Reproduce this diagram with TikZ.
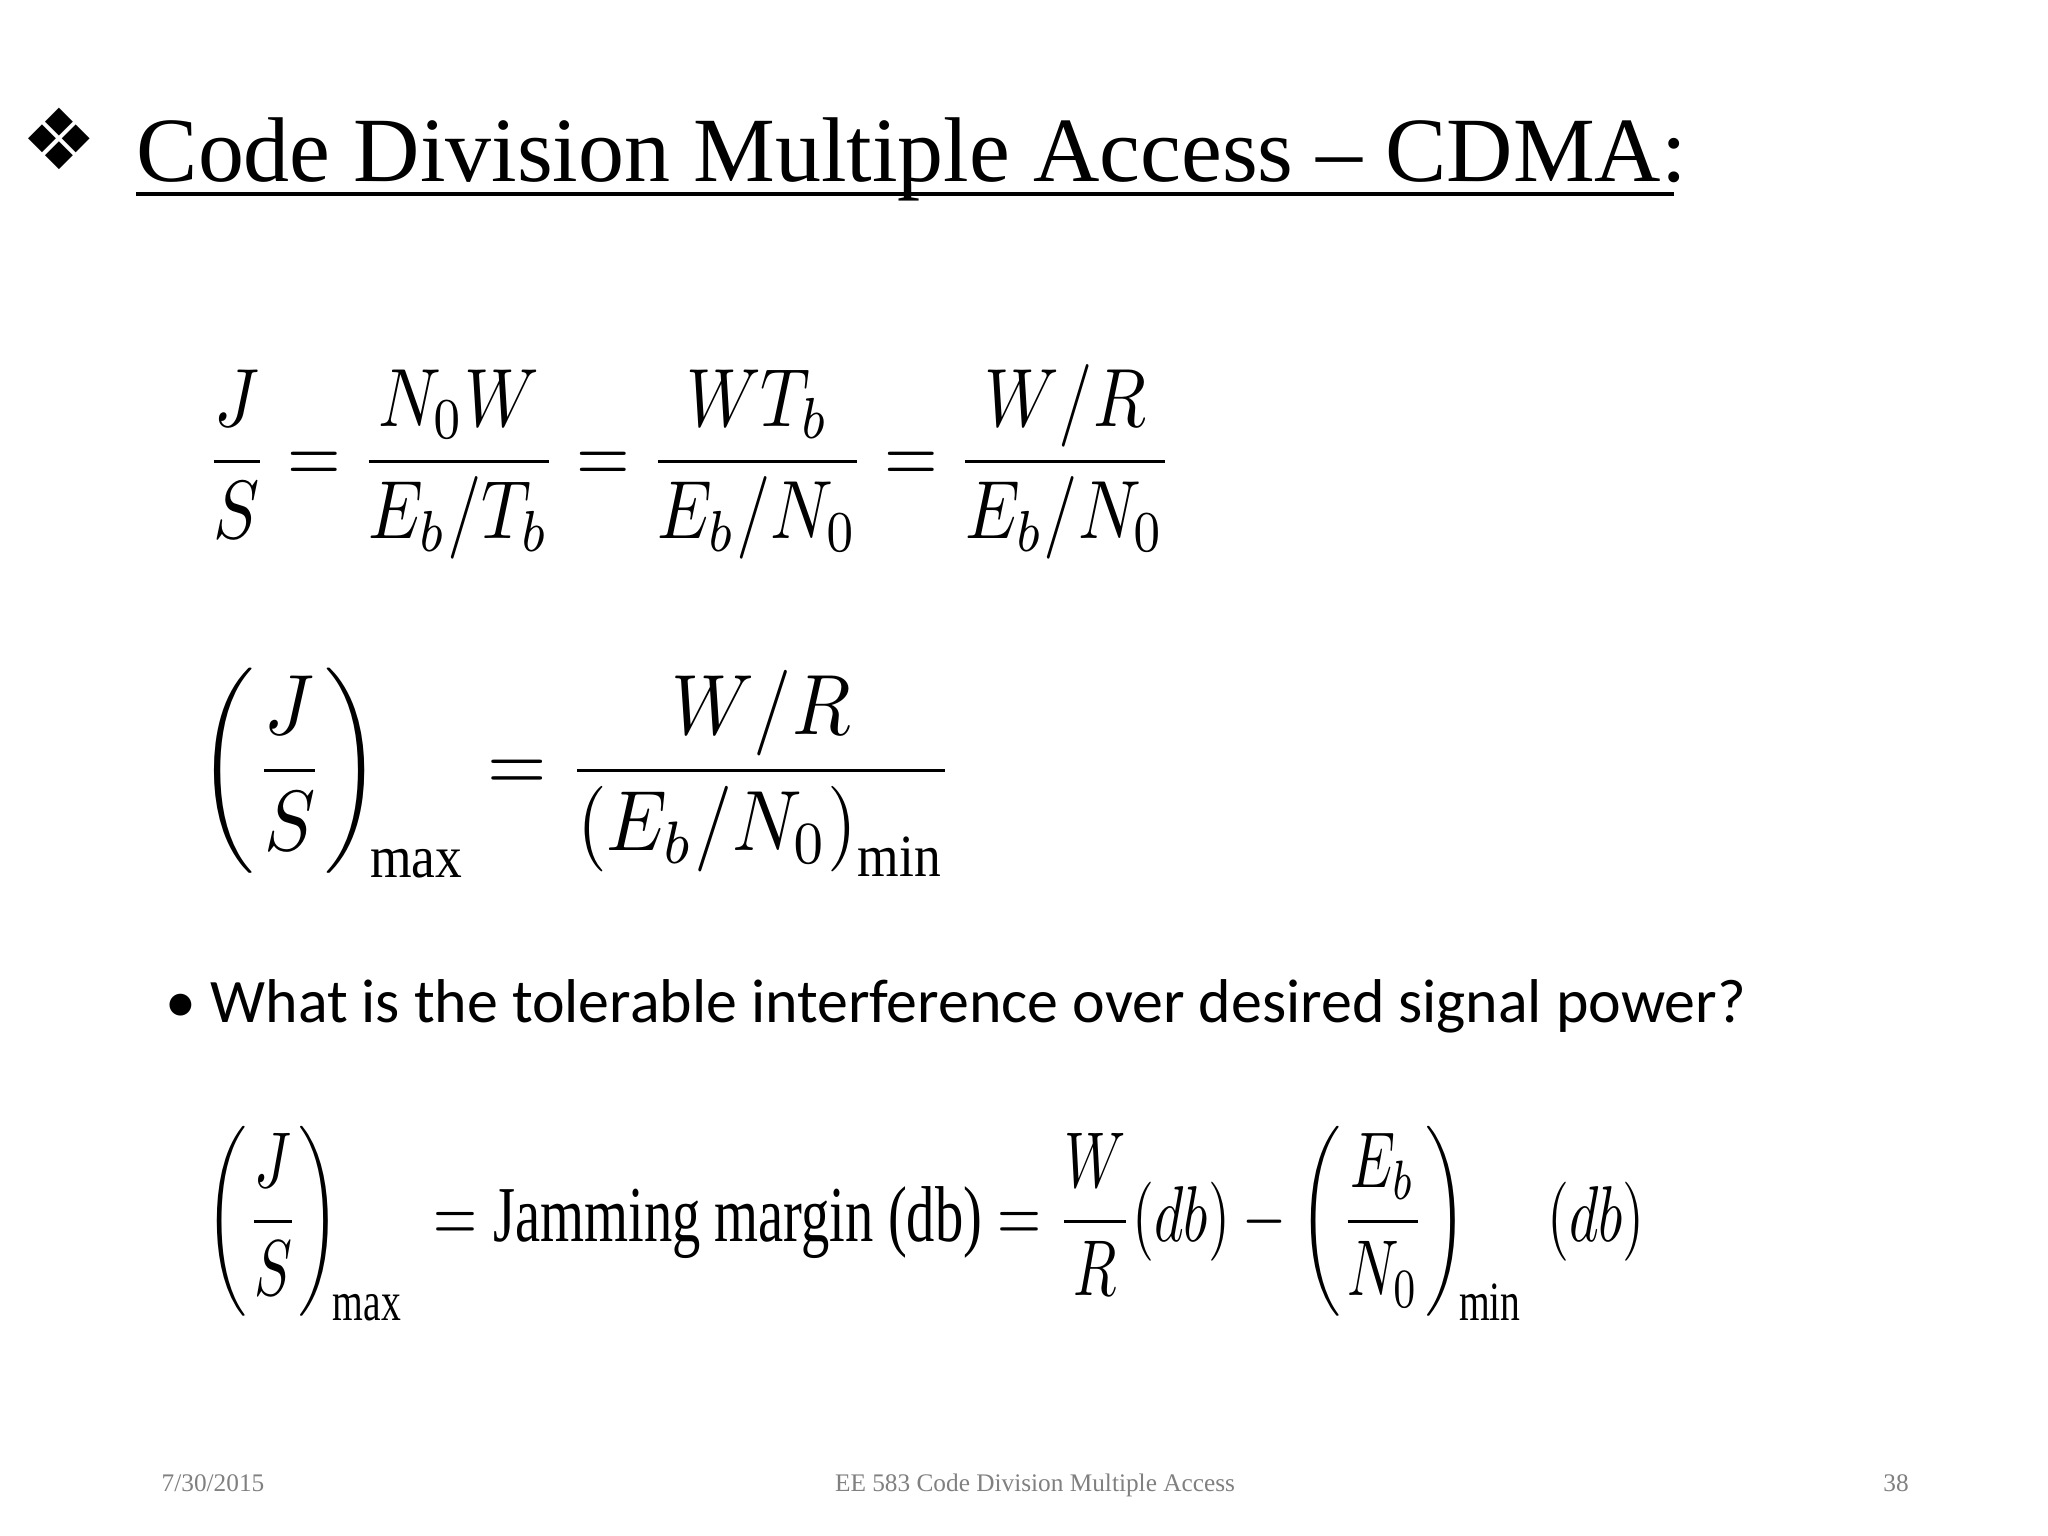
\documentclass[tikz,border=0pt]{standalone}
\usepackage{amsmath}
\usepackage{graphicx}
\usepackage{fontspec}
\setmainfont{Liberation Serif}
\newfontfamily\djv{DejaVu Sans}
\newfontfamily\calib{Carlito}
\begin{document}
\begin{tikzpicture}[x=1cm,y=1cm,
  eq/.style={anchor=west,inner sep=0pt},
  foot/.style={anchor=base,inner sep=0pt,text=gray,font=\fontsize{7.2}{9}\selectfont}]
\useasboundingbox[fill=white] (0,0) rectangle (20.48,15.36);
\node[inner sep=0pt] (dia) at (0.59,13.97) {\djv\fontsize{24}{28}\selectfont ❖};
\node[anchor=base west,inner sep=0pt] (title) at (1.36,13.54)
  {\resizebox{15.5cm}{!}{Code Division Multiple Access -- CDMA:}};
\coordinate (u1) at (1.36,13.42);
\coordinate (u2) at (16.74,13.42);
\draw[line width=1.2pt] (u1) -- (u2);
\node[eq] (e1) at (2.05,10.74) {\resizebox{9.67cm}{!}{\scalebox{1}[1.2]{$\displaystyle
  \frac{J}{S}=\frac{N_0W}{E_b/T_b}=\frac{WT_b}{E_b/N_0}=\frac{W/R}{E_b/N_0}$}}};
\node[eq] (e2) at (1.98,7.63) {\resizebox{7.55cm}{!}{\scalebox{1}[1.12]{$\displaystyle
  \left(\frac{J}{S}\right)_{\!\mathrm{max}}=\frac{W/R}{\left(E_b/N_0\right)_{\mathrm{min}}}$}}};
\node[anchor=base west,inner sep=0pt] (b) at (1.65,5.13)
  {\resizebox{15.8cm}{!}{\calib\fontsize{28}{32}\selectfont • What is the tolerable interference over desired signal power?}};
\node[eq] (e3) at (2.05,3.12) {\resizebox{14.39cm}{!}{\scalebox{1}[1.4]{$\displaystyle
  \left(\frac{J}{S}\right)_{\!\mathrm{max}}\ = \text{Jamming margin (db)} = \frac{W}{R}(db) - \left(\frac{E_b}{N_0}\right)_{\!\mathrm{min}}\ (db)$}}};
\node[foot,anchor=base west] (f1) at (1.61,0.44) {7/30/2015};
\node[foot] (f2) at (10.35,0.44) {EE 583 Code Division Multiple Access};
\node[foot] (f3) at (18.96,0.44) {38};
\end{tikzpicture}
\end{document}
